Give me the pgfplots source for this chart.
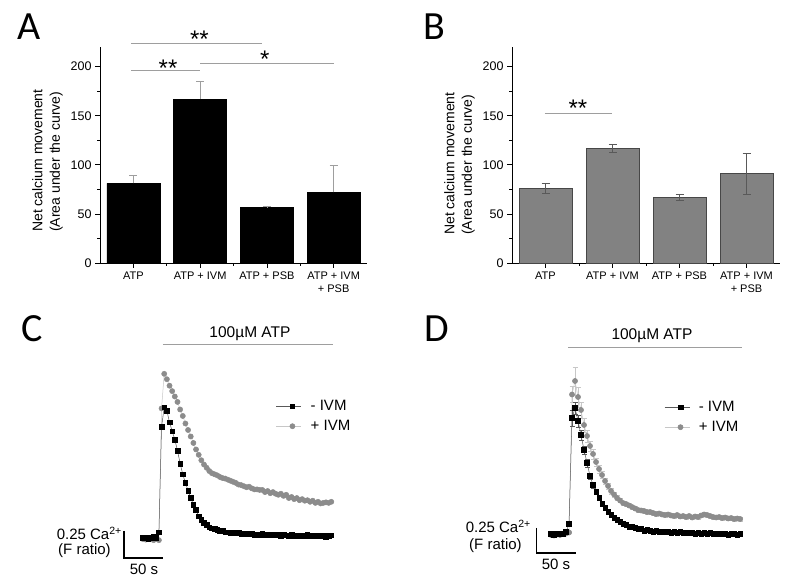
\documentclass[border=0pt]{standalone}
\usepackage{pgfplots}
\pgfplotsset{compat=1.18}
\usepackage{pgfplotstable}
\usepackage{fontspec}
\setmainfont{Liberation Sans}
\newfontfamily\calibri{Carlito}
\definecolor{sig}{gray}{0.62}
\definecolor{barB}{gray}{0.51}
\definecolor{edgeB}{gray}{0.28}
\definecolor{errA}{gray}{0.62}
\definecolor{errB}{gray}{0.35}
\definecolor{ptG}{gray}{0.55}
\definecolor{lnG}{gray}{0.78}
\definecolor{lnK}{gray}{0.35}

\pgfplotstableread{
t k g
0 0 -0.01
3.4 0.005 -0.015
6.8 -0.005 -0.005
10.2 0 -0.01
13.6 0.01 -0.02
17 0.005 -0.01
20.4 0.055 -0.02
23.8 1.03 1.20
27.2 1.21 1.52
30.6 1.18 1.47
34 1.07 1.41
37.4 0.99 1.36
40.8 0.91 1.31
44.2 0.81 1.26
47.6 0.69 1.19
51 0.59 1.13
54.4 0.51 1.06
57.8 0.44 1.00
61.2 0.37 0.94
64.6 0.31 0.88
68 0.26 0.82
71.4 0.20 0.77
74.8 0.17 0.72
78.2 0.14 0.68
81.6 0.12 0.65
85 0.10 0.62
88.4 0.09 0.60
91.8 0.085 0.59
95.2 0.075 0.58
98.6 0.065 0.565
102 0.065 0.555
105.4 0.055 0.55
108.8 0.055 0.54
112.2 0.05 0.53
115.6 0.05 0.52
119 0.045 0.51
122.4 0.05 0.495
125.8 0.04 0.49
129.2 0.045 0.48
132.6 0.04 0.47
136 0.035 0.475
139.4 0.04 0.46
142.8 0.03 0.45
146.2 0.035 0.45
149.6 0.03 0.445
153 0.04 0.445
156.4 0.03 0.425
159.8 0.025 0.435
163.2 0.03 0.415
166.6 0.035 0.425
170 0.025 0.41
173.4 0.03 0.40
176.8 0.02 0.41
180.2 0.03 0.39
183.6 0.025 0.40
187 0.02 0.37
190.4 0.03 0.38
193.8 0.02 0.36
197.2 0.025 0.37
200.6 0.015 0.35
204 0.025 0.36
207.4 0.02 0.345
210.8 0.03 0.35
214.2 0.02 0.335
217.6 0.015 0.345
221 0.025 0.325
224.4 0.02 0.335
227.8 0.015 0.32
231.2 0.02 0.325
234.6 0.01 0.33
238 0.02 0.325
241.4 0.025 0.335
}\dataC

\pgfplotstableread{
t k ke g ge
0 0.005 0.01 -0.005 0.01
3.85 -0.005 0.01 -0.01 0.01
7.7 0.005 0.01 0 0.01
11.55 0.01 0.01 -0.005 0.01
15.4 0.005 0.01 0.005 0.01
19.25 0.025 0.01 0.01 0.01
23.1 0.105 0.02 0.02 0.01
26.95 1.165 0.08 1.40 0.08
30.8 1.265 0.06 1.535 0.14
34.65 1.135 0.06 1.375 0.10
38.5 0.995 0.05 1.245 0.08
42.35 0.845 0.04 1.095 0.07
46.2 0.715 0.04 0.985 0.06
50.05 0.585 0.03 0.885 0.05
53.9 0.495 0.03 0.805 0.05
57.75 0.425 0.025 0.725 0.04
61.6 0.365 0.02 0.655 0.04
65.45 0.305 0.02 0.595 0.035
69.3 0.265 0.015 0.535 0.03
73.15 0.225 0.015 0.485 0.03
77 0.195 0.01 0.435 0.03
80.85 0.17 0.01 0.40 0.025
84.7 0.145 0.01 0.365 0.025
88.55 0.125 0.01 0.34 0.02
92.4 0.105 0.01 0.315 0.02
96.25 0.095 0.01 0.305 0.02
100.1 0.08 0.01 0.29 0.02
103.95 0.075 0.01 0.275 0.02
107.8 0.065 0.01 0.26 0.02
111.65 0.055 0.01 0.245 0.02
115.5 0.055 0.01 0.24 0.02
119.35 0.04 0.01 0.235 0.02
123.2 0.045 0.01 0.225 0.02
127.05 0.035 0.01 0.225 0.02
130.9 0.03 0.01 0.215 0.02
134.75 0.035 0.01 0.205 0.02
138.6 0.025 0.01 0.21 0.02
142.45 0.03 0.01 0.20 0.02
146.3 0.025 0.01 0.195 0.02
150.15 0.03 0.01 0.20 0.02
154 0.02 0.01 0.19 0.02
157.85 0.025 0.01 0.185 0.02
161.7 0.02 0.01 0.195 0.02
165.55 0.025 0.01 0.18 0.02
169.4 0.015 0.01 0.185 0.02
173.25 0.02 0.01 0.175 0.02
177.1 0.015 0.01 0.185 0.02
180.95 0.02 0.01 0.17 0.02
184.8 0.01 0.01 0.18 0.02
188.65 0.015 0.01 0.175 0.02
192.5 0.01 0.01 0.19 0.02
196.35 0.015 0.01 0.20 0.02
200.2 0.01 0.01 0.195 0.02
204.05 0.015 0.01 0.185 0.02
207.9 0.005 0.01 0.175 0.02
211.75 0.01 0.01 0.17 0.02
215.6 0.005 0.01 0.175 0.02
219.45 0.01 0.01 0.165 0.02
223.3 0.005 0.01 0.17 0.02
227.15 0.0 0.01 0.16 0.02
231 0.01 0.01 0.165 0.02
234.85 0.005 0.01 0.155 0.02
238.7 0.0 0.01 0.16 0.02
242.55 0.005 0.01 0.155 0.02
}\dataD

\pgfplotsset{
  barax/.style={
    scale only axis, height=216pt,
    xmin=-0.5, xmax=3.5, ymin=0, ymax=220,
    axis lines=left, axis line style={-, line width=0.8pt},
    ybar, bar width=53pt, clip=false,
    xtick={0,1,2,3}, minor xtick={0.5,1.5,2.5},
    xticklabels={ATP, ATP + IVM, ATP + PSB, {ATP + IVM\\+ PSB}},
    ytick={0,50,100,150,200}, minor ytick={25,75,125,175},
    tick align=outside, major tick length=5pt, minor tick length=3pt,
    tick style={line width=0.7pt, black},
    /pgf/number format/assume math mode=true,
    xticklabel style={align=center, font=\fontsize{11}{13}\selectfont},
    yticklabel style={font=\fontsize{12.5}{14}\selectfont},
  },
  traceax/.style={
    scale only axis, hide axis, clip=false, enlargelimits=false,
    legend style={draw=none, fill=none, anchor=north west, inner sep=0pt,
      font=\fontsize{15}{18}\selectfont, row sep=4pt, column sep=8pt,
      nodes={inner sep=1pt, text height=11pt, text depth=3pt}},
    legend cell align=left, reverse legend,
    legend image code/.code={\draw[##1, mark repeat=2, mark phase=2] plot coordinates {(0pt,0pt) (16pt,0pt) (25pt,0pt)};},
  },
  gstyle/.style={color=lnG, line width=0.5pt, mark=*, mark size=2.6pt, mark options={fill=ptG, draw=ptG}},
  kstyle/.style={color=lnK, line width=0.5pt, mark=square*, mark size=2.3pt, mark options={fill=black, draw=black}},
}

\begin{document}
\begin{tikzpicture}
\path[use as bounding box] (0,0) rectangle (785pt,585pt);

% Panel letters
\node[font=\calibri\fontsize{40}{40}\selectfont, anchor=base west, inner sep=0pt] at (17pt,545pt) {A};
\node[font=\calibri\fontsize{40}{40}\selectfont, anchor=base west, inner sep=0pt] at (423pt,545pt) {B};
\node[font=\calibri\fontsize{40}{40}\selectfont, anchor=base west, inner sep=0pt] at (21pt,243pt) {C};
\node[font=\calibri\fontsize{40}{40}\selectfont, anchor=base west, inner sep=0pt] at (424pt,243pt) {D};

% y labels
\node[rotate=90, anchor=north west, align=left, inner sep=0pt, font=\fontsize{14}{17.5}\selectfont] at (32pt,353pt) {Net calcium movement\\(Area under the curve)};
\node[rotate=90, anchor=north west, align=left, inner sep=0pt, font=\fontsize{14}{17.5}\selectfont] at (444pt,350pt) {Net calcium movement\\(Area under the curve)};

% Panel A
\begin{axis}[barax, at={(100pt,322pt)}, anchor=south west, width=267pt]
\addplot[fill=black, draw=black,
  error bars/.cd, y dir=plus, y explicit,
  error bar style={color=errA, line width=0.6pt},
  error mark options={rotate=90, mark size=4pt, color=errA, line width=0.6pt}]
  coordinates {(0,81) +- (0,8) (1,167) +- (0,18) (2,57) +- (0,0.5) (3,72) +- (0,27)};
\draw[sig, line width=0.7pt] (axis cs:-0.03,224) -- (axis cs:1.93,224);
\draw[sig, line width=0.7pt] (axis cs:-0.03,196.5) -- (axis cs:1,196.5);
\draw[sig, line width=0.7pt] (axis cs:1,203.5) -- (axis cs:3,203.5);
\node[anchor=base, inner sep=0pt, font=\fontsize{24}{24}\selectfont] at (axis cs:0.99,219.2) {**};
\node[anchor=base, inner sep=0pt, font=\fontsize{24}{24}\selectfont] at (axis cs:0.52,190.2) {**};
\node[anchor=base, inner sep=0pt, font=\fontsize{24}{24}\selectfont] at (axis cs:1.97,198.9) {*};
\end{axis}

% Panel B
\begin{axis}[barax, at={(512pt,322pt)}, anchor=south west, width=268pt]
\addplot[fill=barB, draw=edgeB, line width=0.6pt,
  error bars/.cd, y dir=both, y explicit,
  error bar style={color=errB, line width=0.6pt},
  error mark options={rotate=90, mark size=4pt, color=errB, line width=0.6pt}]
  coordinates {(0,76) +- (0,5) (1,117) +- (0,4) (2,67) +- (0,3) (3,91) +- (0,21)};
\draw[sig, line width=0.7pt] (axis cs:-0.01,152.7) -- (axis cs:0.99,152.7);
\node[anchor=base, inner sep=0pt, font=\fontsize{24}{24}\selectfont] at (axis cs:0.485,149.5) {**};
\end{axis}

% Panel C
\begin{axis}[traceax, at={(119.6pt,14.6pt)}, anchor=south west, width=218.4pt, height=216pt,
  xmin=-30, xmax=250, ymin=-0.3, ymax=1.7,
  legend style={at={(0.716,0.798)}}]
\addplot[gstyle] table[x=t, y=g] {\dataC};
\addlegendentry{+ IVM}
\addplot[kstyle] table[x=t, y=k] {\dataC};
\addlegendentry{- IVM}
\draw[black, line width=1.1pt] (axis cs:-24.4,0.065) -- (axis cs:-24.4,-0.185) -- (axis cs:25.6,-0.185);
\draw[sig, line width=0.7pt] (axis cs:25.6,1.796) -- (axis cs:243.6,1.796);
\end{axis}
\node[anchor=base, inner sep=0pt, font=\fontsize{15.5}{18}\selectfont] at (250pt,247pt) {100µM ATP};
\node[anchor=base east, inner sep=0pt, font=\fontsize{15}{18}\selectfont] at (122pt,45pt) {0.25 Ca\textsuperscript{2+}};
\node[anchor=base west, inner sep=0pt, font=\fontsize{15}{18}\selectfont] at (58pt,30pt) {(F ratio)};
\node[anchor=base, inner sep=0pt, font=\fontsize{15}{18}\selectfont] at (144pt,10pt) {50 s};

% Panel D
\begin{axis}[traceax, at={(531.5pt,15.5pt)}, anchor=south west, width=214.5pt, height=215pt,
  xmin=-25, xmax=250, ymin=-0.35, ymax=1.8,
  legend style={at={(0.618,0.793)}}]
\addplot[gstyle, error bars/.cd, y dir=both, y explicit,
  error bar style={color=lnG, line width=0.4pt},
  error mark options={rotate=90, mark size=2.5pt, color=lnG, line width=0.4pt}]
  table[x=t, y=g, y error=ge] {\dataD};
\addlegendentry{+ IVM}
\addplot[kstyle, error bars/.cd, y dir=both, y explicit,
  error bar style={color=lnK, line width=0.4pt},
  error mark options={rotate=90, mark size=2.5pt, color=lnK, line width=0.4pt}]
  table[x=t, y=k, y error=ke] {\dataD};
\addlegendentry{- IVM}
\draw[black, line width=1.1pt] (axis cs:-18.3,0.065) -- (axis cs:-18.3,-0.185) -- (axis cs:31.7,-0.185);
\draw[sig, line width=0.7pt] (axis cs:21.8,1.875) -- (axis cs:244.9,1.875);
\end{axis}
\node[anchor=base, inner sep=0pt, font=\fontsize{15.5}{18}\selectfont] at (652pt,245pt) {100µM ATP};
\node[anchor=base east, inner sep=0pt, font=\fontsize{15}{18}\selectfont] at (531pt,52pt) {0.25 Ca\textsuperscript{2+}};
\node[anchor=base west, inner sep=0pt, font=\fontsize{15}{18}\selectfont] at (469pt,35pt) {(F ratio)};
\node[anchor=base, inner sep=0pt, font=\fontsize{15}{18}\selectfont] at (556pt,15pt) {50 s};
\end{tikzpicture}
\end{document}
